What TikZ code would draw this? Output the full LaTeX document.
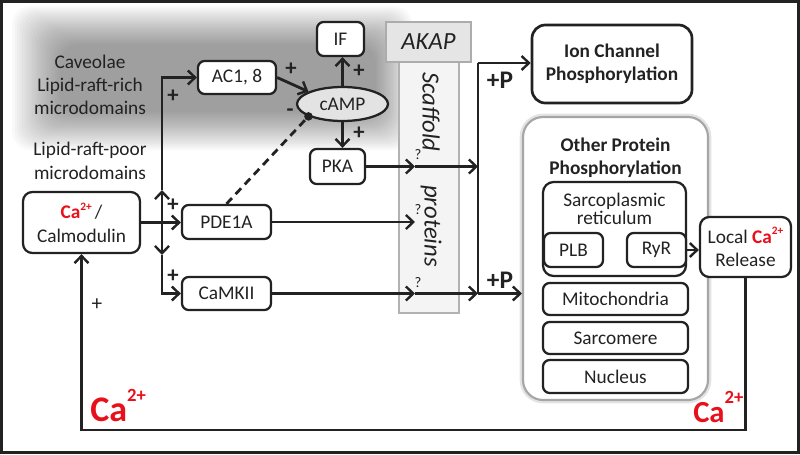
\documentclass[tikz,border=0pt]{standalone}
\usepackage{fontspec}
\setmainfont{Carlito}
\usetikzlibrary{arrows.meta,shapes.geometric,calc}
\definecolor{cared}{HTML}{E8101A}
\definecolor{txt}{HTML}{222222}
\newcommand\fs{\fontsize{14.5}{17.5}\selectfont}
\newcommand\smallca{\textcolor{cared}{\bfseries Ca\raisebox{6.5pt}{\fontsize{8.5}{8.5}\selectfont 2+}}}
\tikzset{
  box/.style={draw=txt, line width=1.7pt, rounded corners=5pt, fill=white, inner sep=0pt, align=center, font=\fs, text=txt},
  arr/.style={line width=2.1pt, draw=txt, -{Straight Barb[length=5.5pt,width=10.5pt,line width=1.8pt]}},
  ln/.style={line width=2.1pt, draw=txt},
  sign/.style={font=\bfseries\fontsize{17}{17}\selectfont, text=txt, inner sep=0pt},
  qm/.style={font=\fontsize{11}{11}\selectfont, text=txt, inner sep=0pt},
  lbl/.style={font=\fs, text=txt, align=center, inner sep=0pt},
  ital/.style={font=\itshape\fontsize{18.5}{18.5}\selectfont, text=txt, inner sep=0pt},
  bigp/.style={font=\bfseries\fontsize{19}{19}\selectfont, text=txt, inner sep=0pt},
}
\begin{document}
\begin{tikzpicture}[x=0.75pt,y=-0.75pt]
\useasboundingbox (0,0) rectangle (800,454);
% shaded caveolae region (soft edges)
\foreach \i in {0,...,19}{
  \fill[black, fill opacity=0.022, rounded corners=14pt] ({12+2.5*\i},{6+2.0*\i}) rectangle ({412-1.9*\i},{150-2.0*\i});
}
\node[lbl] (cav) at (90,85) {Caveolae\\Lipid-raft-rich\\microdomains};
\node[lbl] (poor) at (90,161) {Lipid-raft-poor\\microdomains};

% scaffold column and AKAP
\node[draw=gray!60, fill=gray!9, line width=0.9pt, minimum width=45pt, minimum height=188.25pt, inner sep=0pt] (col) at (429,187.5) {};
\node[draw=gray!65, fill=gray!20, line width=0.9pt, minimum width=63.75pt, minimum height=30pt, ital] (akap) at (428.5,42) {AKAP};
\node[ital, rotate=-90] (scaf) at (431,112) {Scaffold};
\node[ital, rotate=-90] (prot) at (431,226) {proteins};

% left boxes
\node[box, minimum width=87.75pt, minimum height=45.75pt, rounded corners=7pt] (calm) at (81.5,222.5) {\smallca\,/\\Calmodulin};
\node[box, minimum width=66.75pt, minimum height=25.5pt] (pde) at (226.5,222) {PDE1A};
\node[box, minimum width=66.75pt, minimum height=24.75pt] (camk) at (226.5,293.5) {CaMKII};
\node[box, minimum width=58.5pt, minimum height=24.75pt] (ac) at (237,77.5) {AC1, 8};
\node[box, ellipse, fill=gray!22, minimum width=68.25pt, minimum height=25.5pt] (camp) at (342.5,104) {cAMP};
\node[box, minimum width=35.25pt, minimum height=25.5pt] (if) at (340.5,39) {IF};
\node[box, minimum width=41.25pt, minimum height=26.25pt] (pka) at (337.5,166.5) {PKA};

% right boxes
\node[box, line width=2pt, rounded corners=10pt, minimum width=120pt, minimum height=58.5pt, font=\fs\bfseries] (ion) at (612,64) {Ion Channel\\Phosphorylation};
\node[draw=gray!70, line width=1.6pt, rounded corners=15pt, fill=white, preaction={draw=gray!22, line width=5pt}, minimum width=138.75pt, minimum height=212.25pt, inner sep=0pt] (other) at (615.5,258.5) {};
\node[lbl, font=\fs\bfseries] (optitle) at (615.5,158) {Other Protein\\Phosphorylation};
\node[box, minimum width=107.25pt, minimum height=70.5pt, rounded corners=8pt] (sr) at (614.5,229) {};
\node[lbl, font=\fontsize{14.5}{13.5}\selectfont] (srtext) at (614.5,209) {Sarcoplasmic\\reticulum};
\node[box, minimum width=44.25pt, minimum height=25.5pt] (plb) at (573.5,250) {PLB};
\node[box, minimum width=44.25pt, minimum height=25.5pt] (ryr) at (656.5,250) {RyR};
\node[box, minimum width=68.25pt, minimum height=45pt, rounded corners=7pt] (local) at (745.5,247) {Local \smallca\\Release};
\node[box, minimum width=108.75pt, minimum height=24pt] (mito) at (615.5,299) {Mitochondria};
\node[box, minimum width=108.75pt, minimum height=24pt] (sarc) at (615.5,338) {Sarcomere};
\node[box, minimum width=108.75pt, minimum height=24.75pt] (nuc) at (615.5,376.5) {Nucleus};

% big Ca labels
\node[anchor=base west, inner sep=0pt, text=cared, font=\bfseries\fontsize{27}{27}\selectfont] (ca1) at (90,421) {Ca\raisebox{15pt}{\fontsize{14}{14}\selectfont 2+}};
\node[anchor=base west, inner sep=0pt, text=cared, font=\bfseries\fontsize{23}{23}\selectfont] (ca2) at (693,422) {Ca\raisebox{14pt}{\fontsize{14}{14}\selectfont 2+}};

% signs
\node[sign] (p1) at (173,96) {+};
\node[sign] (p2) at (291,69) {+};
\node[sign] (p3) at (359,71) {+};
\node[sign] (p4) at (359,133) {+};
\node[sign] (p5) at (173,205) {+};
\node[sign] (p6) at (173,276) {+};
\node[sign] (m1) at (290,113) {-};
\node[sign, font=\fontsize{16}{16}\selectfont] (p7) at (97,305) {+};
\node[bigp] (pp1) at (500,80) {+P};
\node[bigp] (pp2) at (500,280) {+P};
\node[qm] (q1l) at (418,155) {?};
\node[qm] (q2l) at (418,210) {?};
\node[qm] (q3l) at (418,283) {?};

% connectors left
\coordinate (j) at (162,222);
\coordinate (up) at (162,190);
\coordinate (dn) at (162,255);
\draw[arr] (calm.east) -- (calm.east -| pde.west);
\draw[arr] (j) -- (up);
\draw[arr] (j) -- (dn);
\draw[arr] (up) -- (up |- ac.west) -- (ac.west);
\draw[arr] (dn) -- (dn |- camk.west) -- (camk.west);
\draw[arr] (ac.east) -- (camp.160);
\draw[arr] (camp.north) -- (camp.north |- if.south);
\draw[arr] (camp.south) -- (camp.south |- pka.north);
\draw[ln, dash pattern=on 6pt off 4pt] (pde.north) -- (camp.200);
\fill[txt] (camp.200) circle (3.2pt);

% connectors right
\coordinate (v1) at (478,63);
\coordinate (v2) at (478,293.5);
\coordinate (q) at (415,166.5);
\draw[ln] (v1) -- (v2);
\draw[arr] (v1) -- (v1 -| ion.west);
\draw[arr] (pka.east) -- (pka.east -| q);
\draw[arr] (pka.east -| q) -- (pka.east -| v1);
\draw[arr] (pde.east) -- (pde.east -| q);
\draw[arr] (camk.east) -- (camk.east -| q);
\draw[arr] (camk.east -| q) -- (camk.east -| v1);
\draw[arr] (camk.east -| v1) -- (camk.east -| other.west);
\draw[arr] (ryr.east) -- (ryr.east -| local.west);

% feedback loop
\coordinate (fb) at (746,430);
\draw[arr] (local.south) -- (local.south |- fb) -- (calm.south |- fb) -- (calm.south);

% frame
\draw[line width=2.2pt, txt] (1.5,1.5) rectangle (798.5,452.5);
\end{tikzpicture}
\end{document}
